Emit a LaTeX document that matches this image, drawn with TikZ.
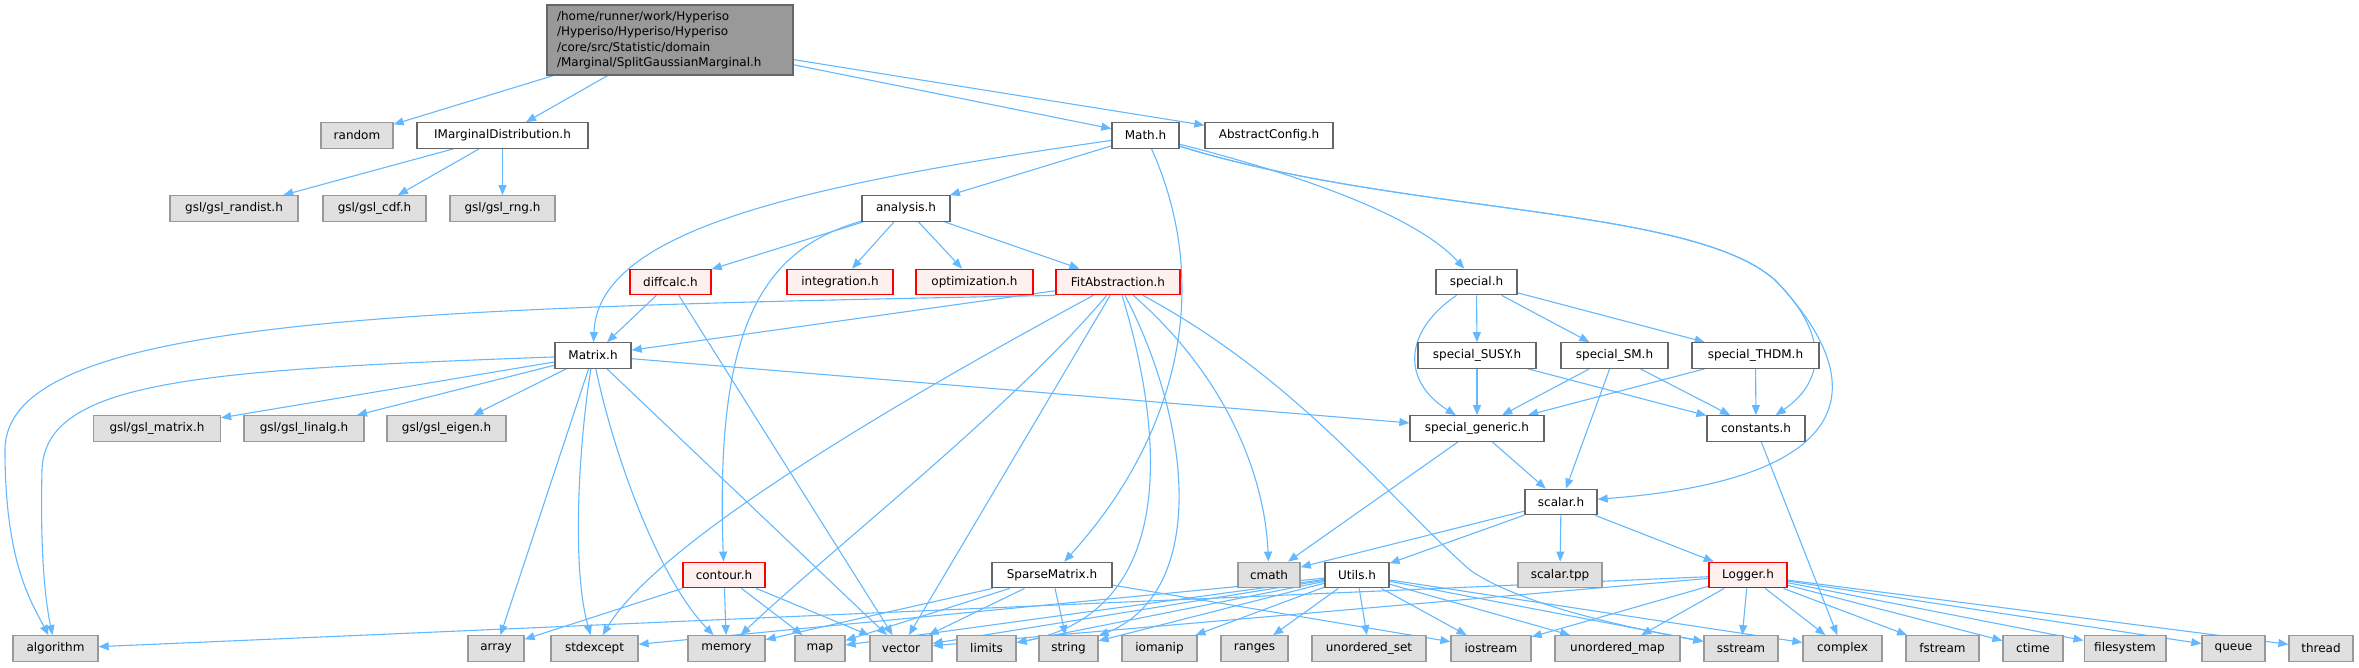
\documentclass[tikz,border=0pt]{standalone}
\usepackage{fontspec}
\setmainfont{DejaVu Sans}
\usetikzlibrary{arrows.meta,backgrounds}
\definecolor{edgeblue}{HTML}{63B8FF}
\definecolor{hdrline}{HTML}{666666}
\definecolor{sysline}{HTML}{999999}
\definecolor{sysfill}{HTML}{E0E0E0}
\definecolor{truncfill}{HTML}{FFF0F0}
\definecolor{rootfill}{HTML}{999999}

\begin{document}
\begin{tikzpicture}[x=1pt,y=-1pt,
        font=\fontsize{12}{15.5}\selectfont,
        every node/.style={draw=hdrline,fill=white,line width=1.3pt,minimum height=25.5pt,inner xsep=10pt,inner ysep=0pt},
        sys/.style={draw=sysline,fill=sysfill},
        trunc/.style={draw=red,fill=truncfill},
        wd/.style={minimum width=#1pt},
        inc/.style={draw=edgeblue,line width=1.1pt,-{Triangle[length=10pt,width=8pt]}}]
    \useasboundingbox (0,0) rectangle (2359,667);

    % the file itself
    \node[fill=rootfill,text width=226pt,align=left,minimum height=70pt] (root) at (670,40)
        {/home/runner/work/Hyperiso\\/Hyperiso/Hyperiso/Hyperiso\\/core/src/Statistic/domain\\/Marginal/SplitGaussianMarginal.h};

    % direct includes
    \node[sys,wd=72] (random) at (357,135.5) {random};
    \node[wd=171] (imarg) at (502.5,135.5) {IMarginalDistribution.h};
    \node[wd=67] (math) at (1145.5,135.5) {Math.h};
    \node[wd=128] (absconf) at (1269,135.5) {AbstractConfig.h};

    \node[sys,wd=128] (randist) at (234,208.5) {gsl/gsl\_randist.h};
    \node[sys,wd=103] (cdf) at (374.5,208.5) {gsl/gsl\_cdf.h};
    \node[sys,wd=105] (rng) at (502.5,208.5) {gsl/gsl\_rng.h};
    \node[wd=88] (analysis) at (906,208.5) {analysis.h};

    \node[trunc,wd=81] (diffcalc) at (670.5,282) {diffcalc.h};
    \node[trunc,wd=106] (integ) at (840,282) {integration.h};
    \node[trunc,wd=117] (optim) at (974.5,282) {optimization.h};
    \node[trunc,wd=124] (fitabs) at (1118,282) {FitAbstraction.h};
    \node[wd=81] (special) at (1476.5,282) {special.h};

    \node[wd=76] (matrix) at (593,355.5) {Matrix.h};
    \node[wd=118] (susy) at (1477,355.5) {special\_SUSY.h};
    \node[wd=107] (sm) at (1614.5,355.5) {special\_SM.h};
    \node[wd=127] (thdm) at (1755.5,355.5) {special\_THDM.h};

    \node[sys,wd=127] (gslmat) at (157,428.5) {gsl/gsl\_matrix.h};
    \node[sys,wd=120] (linalg) at (304,428.5) {gsl/gsl\_linalg.h};
    \node[sys,wd=119] (eigen) at (446.5,428.5) {gsl/gsl\_eigen.h};
    \node[wd=134] (generic) at (1477,428.5) {special\_generic.h};
    \node[wd=98] (consts) at (1756,428.5) {constants.h};

    \node[wd=72] (scalar) at (1561,502) {scalar.h};

    \node[trunc,wd=82] (contour) at (724,575) {contour.h};
    \node[wd=120] (sparse) at (1052,575) {SparseMatrix.h};
    \node[sys,wd=62] (cmath) at (1269,575) {cmath};
    \node[wd=64] (utils) at (1357,575) {Utils.h};
    \node[sys,wd=84] (tpp) at (1560,575) {scalar.tpp};
    \node[trunc,wd=78] (logger) at (1748,575) {Logger.h};

    % standard headers
    \foreach \n/\x/\w/\t in {algorithm/55.5/85/algorithm, array/496/56/array,
            stdexcept/594.5/87/stdexcept, memory/726.5/77/memory, map/820/50/map,
            vector/901/62/vector, limits/986.5/59/limits, string/1068.5/59/string,
            iomanip/1159.5/75/iomanip, ranges/1254.5/67/ranges, uset/1369/114/unordered\_set,
            iostream/1491/80/iostream, umap/1617.5/125/unordered\_map, sstream/1741/74/sstream,
            complex/1842.5/79/complex, fstream/1942.5/73/fstream, ctime/2033/60/ctime,
            filesystem/2125/78/filesystem, queue/2233.5/63/queue, thread/2321/64/thread}
        \node[sys,wd=\w] (\n) at (\x,648.5) {\t};

    \begin{scope}[on background layer]
    \foreach \t in {random,imarg,math,absconf} \draw[inc] (root) -- (\t);
    \foreach \t in {randist,cdf,rng} \draw[inc] (imarg) -- (\t);

    \draw[inc] (math) -- (analysis);
    \draw[inc] (math) .. controls (800,185) and (598,230) .. (matrix);
    \draw[inc] (math) .. controls (1215,290) and (1175,440) .. (sparse);
    \draw[inc] (math) .. controls (1320,180) and (1420,220) .. (special);
    \draw[inc] (math) .. controls (1400,215) and (1690,205) .. (1775,280)
        .. controls (1835,340) and (1820,385) .. (consts);
    \draw[inc] (math) .. controls (1400,215) and (1690,205) .. (1775,280)
        .. controls (1880,390) and (1850,480) .. (scalar);

    \foreach \t in {diffcalc,integ,optim,fitabs} \draw[inc] (analysis) -- (\t);
    \draw[inc] (analysis) .. controls (760,250) and (715,330) .. (contour);

    \foreach \t in {matrix,vector} \draw[inc] (diffcalc) -- (\t);

    \foreach \t in {matrix,vector} \draw[inc] (fitabs) -- (\t);
    \draw[inc] (fitabs.south west) .. controls (400,308) and (5,318) .. (5,450)
        .. controls (5,560) and (30,600) .. (algorithm);
    \draw[inc] (fitabs) .. controls (900,400) and (660,540) .. (stdexcept);
    \draw[inc] (fitabs) .. controls (1010,410) and (830,550) .. (memory);
    \draw[inc] (fitabs) .. controls (1160,420) and (1185,610) .. (limits);
    \draw[inc] (fitabs) .. controls (1190,420) and (1210,590) .. (string);
    \draw[inc] (fitabs) .. controls (1230,380) and (1265,480) .. (cmath);
    \draw[inc] (fitabs) .. controls (1300,380) and (1390,500) .. (1470,570)
        .. controls (1520,605) and (1630,628) .. (sstream);

    \foreach \t in {gslmat,linalg,eigen,array,vector,generic} \draw[inc] (matrix) -- (\t);
    \draw[inc] (matrix) .. controls (200,370) and (45,380) .. (42,470)
        .. controls (40,550) and (45,600) .. (algorithm);
    \draw[inc] (matrix) .. controls (578,450) and (572,570) .. (stdexcept);
    \draw[inc] (matrix) .. controls (615,460) and (660,580) .. (memory);

    \foreach \t in {susy,sm,thdm} \draw[inc] (special) -- (\t);
    \draw[inc] (special) .. controls (1405,330) and (1400,380) .. (generic);
    \foreach \s in {susy,sm,thdm} {
        \draw[inc] (\s) -- (generic);
        \draw[inc] (\s) -- (consts);
    }
    \draw[inc] (sm) -- (scalar);
    \foreach \t in {cmath,scalar} \draw[inc] (generic) -- (\t);
    \draw[inc] (consts) -- (complex);

    \foreach \t in {cmath,utils,tpp,logger} \draw[inc] (scalar) -- (\t);
    \foreach \t in {array,memory,map,vector} \draw[inc] (contour) -- (\t);
    \foreach \t in {memory,map,vector,string,iostream} \draw[inc] (sparse) -- (\t);
    \foreach \t in {stdexcept,map,vector,limits,string,iomanip,ranges,uset,iostream,umap,sstream,complex}
        \draw[inc] (utils) -- (\t);
    \foreach \t in {algorithm,vector,iostream,umap,sstream,complex,fstream,ctime,filesystem,queue,thread}
        \draw[inc] (logger) -- (\t);
    \end{scope}
\end{tikzpicture}
\end{document}
